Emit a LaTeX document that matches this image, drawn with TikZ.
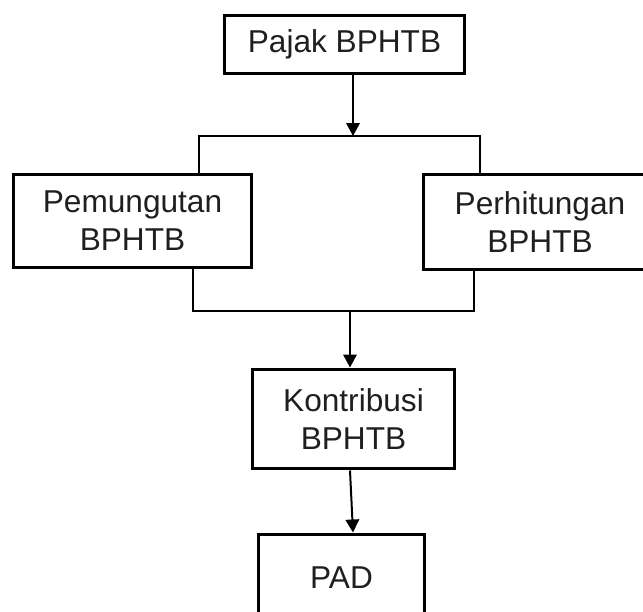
\documentclass[tikz,border=0pt]{standalone}
\usepackage{fontspec}
\setmainfont{Liberation Sans}
\usetikzlibrary{arrows.meta}

\begin{document}
\begin{tikzpicture}[x=0.02cm,y=-0.02cm,
  box/.style={draw,line width=0.06cm,align=center,inner sep=0pt,
    text=black!88,font=\fontsize{18}{21.7}\selectfont},
  link/.style={line width=0.055cm},
  flow/.style={line width=0.04cm,-{Triangle[length=0.26cm,width=0.27cm]}}]

\useasboundingbox (0,0) rectangle (643,612);

% boxes
\node[box,minimum width=4.82cm,minimum height=1.18cm] (pajak) at (344.5,44.5) {Pajak BPHTB};
\node[box,minimum width=4.78cm,minimum height=1.88cm] (pemungutan) at (132.5,221) {Pemungutan\\BPHTB};
\node[box,minimum width=4.68cm,minimum height=1.92cm] (perhitungan) at (540,222) {Perhitungan\\BPHTB};
\node[box,minimum width=4.06cm,minimum height=2.0cm] (kontribusi) at (353.5,419) {Kontribusi\\BPHTB};
\node[box,minimum width=3.34cm,minimum height=1.76cm] (pad) at (341.5,578) {PAD};

% split
\coordinate (tm) at (353,136);
\coordinate (tl) at (199,136);
\coordinate (tr) at (480,136);
\draw[flow] (pajak.south -| tm) -- (tm);
\draw[link] (tl |- pemungutan.north) -- (tl) -- (tr) -- (tr |- perhitungan.north);

% join
\coordinate (bm) at (350,311);
\coordinate (bl) at (193,311);
\coordinate (br) at (474,311);
\draw[link] (bl |- pemungutan.south) -- (bl) -- (br) -- (br |- perhitungan.south);
\draw[flow] (bm) -- (kontribusi.north -| bm);

% contribution
\coordinate (ka) at (350,0);
\coordinate (kb) at (353,0);
\draw[flow] (kontribusi.south -| ka) -- (pad.north -| kb);

\end{tikzpicture}
\end{document}
